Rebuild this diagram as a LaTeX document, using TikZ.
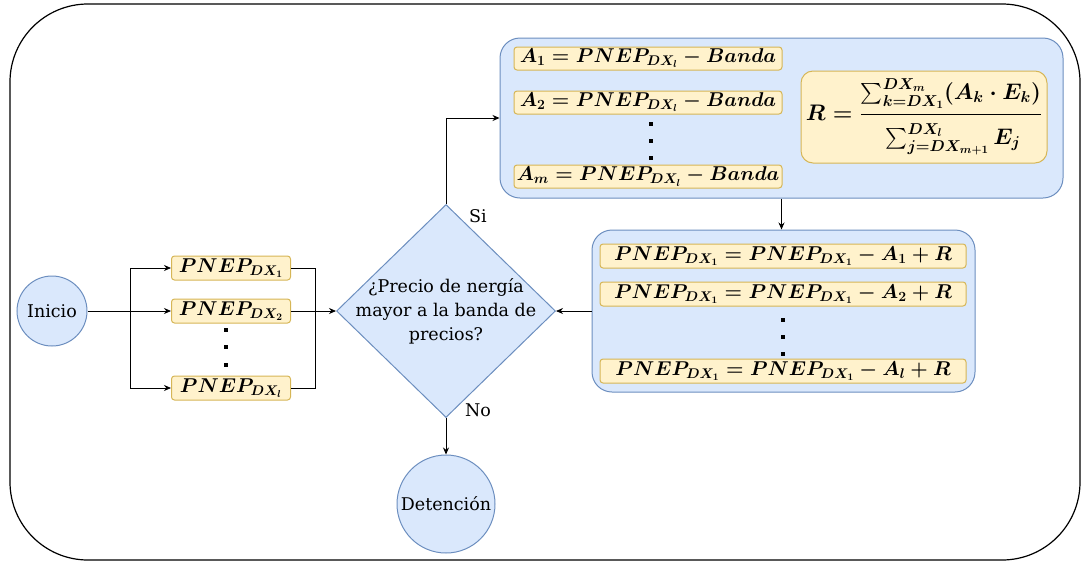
\RequirePackage{fix-cm}
\documentclass[tikz,border=0pt]{standalone}
\usepackage{amsmath}
\usepackage{fontspec}
\setmainfont{DejaVu Serif}
\usetikzlibrary{arrows.meta, positioning, shapes.geometric}

\definecolor{boxblue}{HTML}{DAE8FC}
\definecolor{lineblue}{HTML}{6C8EBF}
\definecolor{boxyellow}{HTML}{FFF2CC}
\definecolor{lineyellow}{HTML}{D6B656}

\tikzset{
	terminal/.style={circle, draw=lineblue, fill=boxblue, line width=1pt, inner sep=0pt},
	decision/.style={diamond, draw=lineblue, fill=boxblue, line width=1pt, inner sep=0pt, minimum width=219pt, minimum height=213pt},
	group/.style={rectangle, rounded corners=20pt, draw=lineblue, fill=boxblue, line width=1pt},
	formula/.style={rectangle, rounded corners=3pt, draw=lineyellow, fill=boxyellow, line width=1pt, inner sep=0pt, font=\fontsize{20}{24}\selectfont\boldmath},
	dot/.style={rectangle, fill=black, inner sep=0pt, minimum size=3.6pt},
	wire/.style={line width=0.8pt},
	flow/.style={wire, -{Stealth[length=7pt, width=6pt]}},
}

\begin{document}
\begin{tikzpicture}[x=1pt, y=-1pt, node distance=14pt, font=\fontsize{17.5}{24}\selectfont]
	\useasboundingbox (0,0) rectangle (1081,563);
	\draw[line width=1.2pt, rounded corners=78pt] (10,4) rectangle (1080,560);

	\node[terminal, minimum size=70pt] 		(inicio) 	at (52,311) {Inicio};
	\node[formula, minimum width=119pt, minimum height=24pt] (p1) at (231,268) {$PNEP_{DX_1}$};
	\node[formula, minimum width=119pt, minimum height=24pt] (p2) at (231,311) {$PNEP_{DX_2}$};
	\node[formula, minimum width=119pt, minimum height=24pt] (pl) at (231,388) {$PNEP_{DX_l}$};
	\foreach \k/\y in {1/330, 2/347, 3/365}
		\node[dot] (pdot\k) at (226,\y) {};

	\node[decision] 						(dec) 		at (446,311) {};
	\node[align=center, inner sep=0pt] 		(question) 	at (dec.center) {¿Precio de nergía\\mayor a la banda de\\precios?};
	\node[inner sep=0pt] 					(si) 		at (478,216) {Si};
	\node[inner sep=0pt] 					(no) 		at (478,410) {No};
	\node[terminal, minimum size=98pt] 		(stop) 		at (446,504) {Detención};

	\node[group, minimum width=563pt, minimum height=160pt] (calc) at (781.5,118) {};
	\node[formula, minimum width=268pt, minimum height=23pt] (a1) at (648,58.5) {$A_1 = PNEP_{DX_l} - Banda$};
	\node[formula, minimum width=268pt, minimum height=23pt] (a2) [below=20pt of a1] {$A_2 = PNEP_{DX_l} - Banda$};
	\node[formula, minimum width=268pt, minimum height=23pt] (am) at (648,176.5) {$A_m = PNEP_{DX_l} - Banda$};
	\foreach \k/\y in {1/124, 2/141, 3/158}
		\node[dot] (adot\k) at (651,\y) {};
	\node[formula, rounded corners=12pt, minimum width=246pt, minimum height=92pt, font=\fontsize{22.5}{26}\selectfont\boldmath] (rbox) at (924,117)
		{$R = \dfrac{\sum_{k=DX_1}^{DX_m}(A_k\cdot E_k)\rule[-12pt]{0pt}{12pt}}{\rule{0pt}{27pt}\sum_{j=DX_{m+1}}^{DX_l}E_j}$};

	\node[group, minimum width=383pt, minimum height=162pt] (update) at (783.5,311) {};
	\node[formula, minimum width=366pt, minimum height=24pt] (u1) at (783,256) {$PNEP_{DX_1} = PNEP_{DX_1} - A_1 + R$};
	\node[formula, minimum width=366pt, minimum height=24pt] (u2) [below=13pt of u1] {$PNEP_{DX_1} = PNEP_{DX_1} - A_2 + R$};
	\node[formula, minimum width=366pt, minimum height=24pt] (ul) at (783,371) {$PNEP_{DX_1} = PNEP_{DX_1} - A_l + R$};
	\foreach \k/\y in {1/320, 2/337, 3/354}
		\node[dot] (udot\k) at (783,\y) {};

	\coordinate (split) at (130,311);
	\coordinate (merge) at (315,311);

	\path[wire] (inicio) edge (split);
	\path[flow] (split) edge (p2);
	\draw[flow] (split) |- (p1);
	\draw[flow] (split) |- (pl);
	\draw[wire] (p1) -| (merge);
	\draw[wire] (pl) -| (merge);
	\path[flow] (p2) edge (dec);
	\draw[flow] (dec) |- (calc);
	\draw[flow] (calc.south) -- (calc.south |- update.north);
	\path[flow] (update) edge (dec);
	\path[flow] (dec) edge (stop);
\end{tikzpicture}
\end{document}
